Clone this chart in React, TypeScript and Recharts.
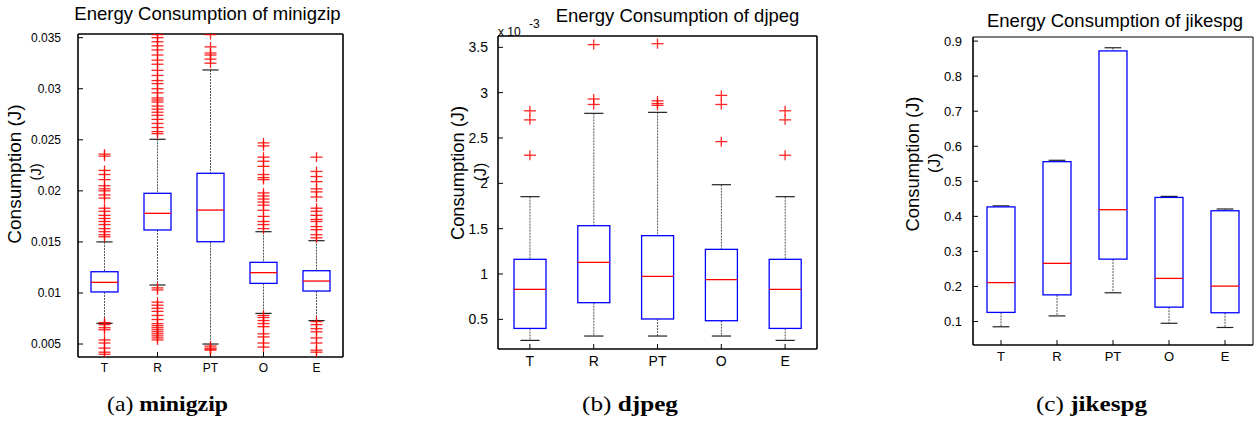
import React from 'react';
import { ComposedChart, Bar, Scatter, Line, XAxis, YAxis } from 'recharts';

const categories = ['T', 'R', 'PT', 'O', 'E'];

// (a) minigzip, Joules
const gzipLow = [0.00703, 0.01078, 0.005, 0.008, 0.00729];
const gzipQ1 = [0.0101, 0.01617, 0.01502, 0.01094, 0.01019];
const gzipMedian = [0.01104, 0.0178, 0.01812, 0.01199, 0.01117];
const gzipQ3 = [0.01208, 0.01976, 0.02172, 0.013, 0.01218];
const gzipHigh = [0.015, 0.02505, 0.03184, 0.016, 0.01512];
const gzipOutliers = [
  [0.0236, 0.0234, 0.022, 0.0216, 0.0211, 0.0205, 0.0202, 0.02, 0.0196, 0.0193, 0.0183, 0.018, 0.0176, 0.0173, 0.017, 0.0167, 0.0163, 0.016, 0.0157, 0.0155,
    0.0071, 0.0069, 0.0066, 0.0064, 0.0054, 0.0051, 0.0046, 0.0042, 0.004],
  [0.0353, 0.035, 0.0346, 0.0342, 0.0338, 0.0333, 0.0328, 0.0324, 0.0318, 0.0313, 0.0308, 0.0305, 0.03, 0.0296, 0.0291, 0.0289, 0.0287, 0.0283, 0.028,
    0.0277, 0.0274, 0.027, 0.0266, 0.0262, 0.0258, 0.0256,
    0.0105, 0.0103, 0.0091, 0.0088, 0.0085, 0.0082, 0.0078, 0.0074, 0.007, 0.0068, 0.0066, 0.0064, 0.0062, 0.006, 0.0058, 0.0056, 0.0054],
  [0.0353, 0.0341, 0.0335, 0.0333, 0.0329, 0.0325, 0.0048, 0.0046, 0.0045, 0.0044],
  [0.0247, 0.0244, 0.0233, 0.0229, 0.0224, 0.0216, 0.0213, 0.0211, 0.0198, 0.0195, 0.0192, 0.0189, 0.0186, 0.0181, 0.0175, 0.017, 0.0167, 0.0163,
    0.0078, 0.0076, 0.0073, 0.007, 0.0067, 0.006, 0.0057, 0.0051, 0.0047],
  [0.0233, 0.0219, 0.0214, 0.0209, 0.0202, 0.0199, 0.0194, 0.0183, 0.018, 0.0176, 0.0172, 0.017, 0.0165, 0.0162, 0.0157, 0.0154,
    0.0072, 0.0069, 0.0065, 0.0062, 0.0056, 0.0051, 0.0044, 0.0042],
];
const gzipTicks = [0.005, 0.01, 0.015, 0.02, 0.025, 0.03, 0.035];

// (b) djpeg, x 10^-3 J
const djpegLow = [0.268, 0.316, 0.316, 0.316, 0.268];
const djpegQ1 = [0.4, 0.684, 0.504, 0.485, 0.4];
const djpegMedian = [0.831, 1.129, 0.974, 0.9375, 0.831];
const djpegQ3 = [1.162, 1.533, 1.423, 1.272, 1.162];
const djpegHigh = [1.853, 2.772, 2.783, 1.985, 1.853];
const djpegOutliers = [
  [2.8, 2.7, 2.31],
  [3.53, 2.93, 2.87],
  [3.54, 2.91, 2.88, 2.86],
  [2.97, 2.87, 2.46],
  [2.8, 2.7, 2.31],
];
const djpegTicks = [0.5, 1, 1.5, 2, 2.5, 3, 3.5];

// (c) jikespg, Joules
const jikesLow = [0.085, 0.116, 0.182, 0.095, 0.083];
const jikesQ1 = [0.126, 0.176, 0.278, 0.141, 0.125];
const jikesMedian = [0.211, 0.266, 0.419, 0.223, 0.201];
const jikesQ3 = [0.427, 0.556, 0.872, 0.454, 0.416];
const jikesHigh = [0.43, 0.56, 0.881, 0.457, 0.421];
const jikesOutliers: number[][] = [[], [], [], [], []];
const jikesTicks = [0.1, 0.2, 0.3, 0.4, 0.5, 0.6, 0.7, 0.8, 0.9];

const FONT = '"Liberation Sans", Arial, Helvetica, sans-serif';
const SERIF = '"Liberation Serif", "Times New Roman", Times, serif';

// box + whiskers, drawn from the pixel range the Bar gets for [low, high]
const BoxShape = (props: any) => {
  const { x, y, width, height, payload } = props;
  const { lo, q1, med, q3, hi } = payload;
  const py = (v: number) => y + (height * (hi - v)) / (hi - lo);
  const cx = x + width / 2;
  const cap = width * 0.3;
  return (
    <g>
      <line x1={cx} x2={cx} y1={py(hi)} y2={py(q3)} stroke="#555" strokeWidth={1} strokeDasharray="2 1" />
      <line x1={cx} x2={cx} y1={py(q1)} y2={py(lo)} stroke="#555" strokeWidth={1} strokeDasharray="2 1" />
      <line x1={cx - cap} x2={cx + cap} y1={py(hi)} y2={py(hi)} stroke="#222" strokeWidth={1.2} />
      <line x1={cx - cap} x2={cx + cap} y1={py(lo)} y2={py(lo)} stroke="#222" strokeWidth={1.2} />
      <rect x={x} y={py(q3)} width={width} height={py(q1) - py(q3)} fill="#fff" stroke="#0000ff" strokeWidth={1.3} />
      <line x1={x} x2={x + width} y1={py(med)} y2={py(med)} stroke="#ff0000" strokeWidth={1.3} />
    </g>
  );
};

const PlusShape = (props: any) => {
  const { cx, cy } = props;
  return (
    <g stroke="#ff0000" strokeWidth={1.3} opacity={0.85}>
      <line x1={cx - 6} x2={cx + 6} y1={cy} y2={cy} />
      <line x1={cx} x2={cx} y1={cy - 5} y2={cy + 5} />
    </g>
  );
};

interface PanelCfg {
  left: number;
  w: number;
  h: number;
  plot: { l: number; r: number; t: number; b: number };
  domain: [number, number];
  ticks: number[];
  lo: number[];
  q1: number[];
  med: number[];
  q3: number[];
  hi: number[];
  outliers: number[][];
  barSize: number;
  fontSize: number;
  yTickMargin: number;
  xTickMargin: number;
  thinTopRight?: boolean;
}

const Panel: React.FC<{ cfg: PanelCfg }> = ({ cfg }) => {
  const data = categories.map((name, i) => ({
    name,
    lo: cfg.lo[i],
    q1: cfg.q1[i],
    med: cfg.med[i],
    q3: cfg.q3[i],
    hi: cfg.hi[i],
    range: [cfg.lo[i], cfg.hi[i]],
  }));
  const points = categories.flatMap((name, i) => cfg.outliers[i].map((v) => ({ name, v })));
  const margin = {
    left: cfg.plot.l - cfg.left - 40,
    right: cfg.left + cfg.w - cfg.plot.r - 1,
    top: cfg.plot.t - 1,
    bottom: cfg.h - cfg.plot.b - 20,
  };
  const thick = { stroke: '#000', strokeWidth: 1.6 };
  const side = cfg.thinTopRight ? { stroke: '#000', strokeWidth: 1 } : thick;
  const tick = { fill: '#000', fontSize: cfg.fontSize, fontFamily: FONT };
  return (
    <div style={{ position: 'absolute', left: cfg.left, top: 0 }}>
      <ComposedChart width={cfg.w} height={cfg.h} data={data} margin={margin}>
        <XAxis xAxisId="b" dataKey="name" orientation="bottom" height={20} allowDuplicatedCategory={false}
          interval={0} tickSize={-5} tickMargin={cfg.xTickMargin} axisLine={thick} tickLine={{ stroke: '#000' }} tick={tick} />
        <XAxis xAxisId="t" dataKey="name" orientation="top" height={1} allowDuplicatedCategory={false}
          interval={0} tickSize={-5} axisLine={side} tickLine={{ stroke: '#000' }} tick={false} />
        <YAxis yAxisId="l" type="number" domain={cfg.domain} ticks={cfg.ticks} allowDataOverflow width={40}
          interval={0} tickSize={-5} tickMargin={cfg.yTickMargin} axisLine={thick} tickLine={{ stroke: '#000' }} tick={tick} />
        <YAxis yAxisId="r" type="number" orientation="right" domain={cfg.domain} ticks={cfg.ticks} allowDataOverflow width={1}
          interval={0} tickSize={-5} axisLine={side} tickLine={{ stroke: '#000' }} tick={false} />
        <Bar xAxisId="b" yAxisId="l" dataKey="range" barSize={cfg.barSize} shape={BoxShape} isAnimationActive={false} />
        <Line xAxisId="t" yAxisId="r" dataKey="med" stroke="none" dot={false} activeDot={false} isAnimationActive={false} />
        {points.length > 0 && (
          <Scatter xAxisId="b" yAxisId="l" data={points} dataKey="v" shape={PlusShape} isAnimationActive={false} />
        )}
      </ComposedChart>
    </div>
  );
};

const panels: PanelCfg[] = [
  {
    left: 0, w: 350, h: 380, plot: { l: 78, r: 343, t: 34, b: 357 },
    domain: [0.00373, 0.03536], ticks: gzipTicks,
    lo: gzipLow, q1: gzipQ1, med: gzipMedian, q3: gzipQ3, hi: gzipHigh, outliers: gzipOutliers,
    barSize: 27, fontSize: 12, yTickMargin: 22, xTickMargin: 11,
  },
  {
    left: 430, w: 400, h: 380, plot: { l: 498, r: 817, t: 36, b: 349 },
    domain: [0.173, 3.625], ticks: djpegTicks,
    lo: djpegLow, q1: djpegQ1, med: djpegMedian, q3: djpegQ3, hi: djpegHigh, outliers: djpegOutliers,
    barSize: 32, fontSize: 14, yTickMargin: 15, xTickMargin: 12,
  },
  {
    left: 880, w: 377, h: 380, plot: { l: 973, r: 1253, t: 37, b: 345 },
    domain: [0.033, 0.9117], ticks: jikesTicks,
    lo: jikesLow, q1: jikesQ1, med: jikesMedian, q3: jikesQ3, hi: jikesHigh, outliers: jikesOutliers,
    barSize: 28, fontSize: 13, yTickMargin: 16, xTickMargin: 12, thinTopRight: true,
  },
];

export default function App() {
  return (
    <div style={{ position: 'absolute', left: 0, top: 0, width: 1257, height: 422, background: '#fff', fontFamily: FONT }}>
      {panels.map((p, i) => (
        <Panel key={i} cfg={p} />
      ))}
      <svg width={1257} height={422} style={{ position: 'absolute', left: 0, top: 0, pointerEvents: 'none' }}>
        <g style={{ fontFamily: FONT }} fill="#000">
          <text x={207.5} y={20} textAnchor="middle" fontSize={18.5}>Energy Consumption of minigzip</text>
          <text x={677.5} y={21.5} textAnchor="middle" fontSize={18.5}>Energy Consumption of djpeg</text>
          <text x={1115} y={26.5} textAnchor="middle" fontSize={18.5}>Energy Consumption of jikespg</text>

          <text transform="translate(20.7,174) rotate(-90)" textAnchor="middle" fontSize={19}>Consumption (J)</text>
          <text transform="translate(40.6,172) rotate(-90)" textAnchor="middle" fontSize={14.5}>(J)</text>
          <text transform="translate(464,173) rotate(-90)" textAnchor="middle" fontSize={18.3}>Consumption (J)</text>
          <text transform="translate(486,172) rotate(-90)" textAnchor="middle" fontSize={16}>(J)</text>
          <text transform="translate(919,164) rotate(-90)" textAnchor="middle" fontSize={18.4}>Consumption (J)</text>
          <text transform="translate(940,163) rotate(-90)" textAnchor="middle" fontSize={17}>(J)</text>

          <text x={498} y={36} fontSize={12}>x 10</text>
          <text x={529} y={28} fontSize={12}>-3</text>
        </g>
        <g style={{ fontFamily: SERIF }} fill="#000" fontSize={21}>
          <text x={107} y={411} textLength={121} lengthAdjust="spacingAndGlyphs">
            (a) <tspan fontWeight="bold">minigzip</tspan>
          </text>
          <text x={582} y={411} textLength={96} lengthAdjust="spacingAndGlyphs">
            (b) <tspan fontWeight="bold">djpeg</tspan>
          </text>
          <text x={1036} y={411} textLength={111} lengthAdjust="spacingAndGlyphs">
            (c) <tspan fontWeight="bold">jikespg</tspan>
          </text>
        </g>
      </svg>
    </div>
  );
}
